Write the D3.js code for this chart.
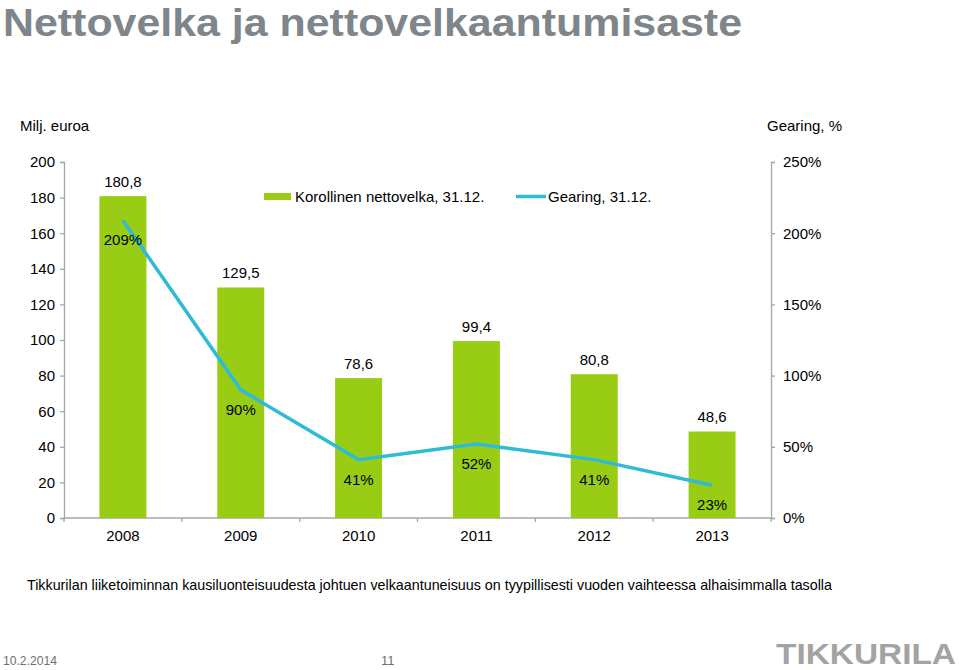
<!DOCTYPE html>
<html><head><meta charset="utf-8">
<script src="https://cdn.jsdelivr.net/npm/d3@7"></script>
<style>body{margin:0;background:#fff;}svg{display:block;font-family:"Liberation Sans",Arial,sans-serif;}</style>
</head><body><svg id="c" width="959" height="670"></svg>
<script>
const years = ["2008","2009","2010","2011","2012","2013"];
const netDebt = [180.8,129.5,78.6,99.4,80.8,48.6];
const netDebtLabels = ["180,8","129,5","78,6","99,4","80,8","48,6"];
const gearing = [209,90,41,52,41,23];
const gearingLabels = ["209%","90%","41%","52%","41%","23%"];
const leftTicks = [0,20,40,60,80,100,120,140,160,180,200];
const rightTicks = [0,50,100,150,200,250];

const svg = d3.select("#c");
const L = 64, R = 771, T = 162, B = 518;
const barColor = "#99cc14", lineColor = "#2dbbd6", axisColor = "#a6a6a6";

svg.append("text").attr("x",3).attr("y",36).attr("font-size",38).attr("font-weight","bold")
  .attr("fill","#7e858b").attr("textLength",739).attr("lengthAdjust","spacingAndGlyphs")
  .text("Nettovelka ja nettovelkaantumisaste");

const x = d3.scaleBand().domain(years).range([L,R]);
const yL = d3.scaleLinear().domain([0,200]).range([B,T]);
const yR = d3.scaleLinear().domain([0,250]).range([B,T]);

svg.append("text").attr("x",20).attr("y",131).attr("font-size",15).text("Milj. euroa");
svg.append("text").attr("x",767).attr("y",131).attr("font-size",15).text("Gearing, %");

// axes
const axL = svg.append("g").attr("transform",`translate(${L},0)`)
  .call(d3.axisLeft(yL).tickValues(leftTicks).tickSize(4).tickPadding(5).tickFormat(d3.format("d")));
const axR = svg.append("g").attr("transform",`translate(${R},0)`)
  .call(d3.axisRight(yR).tickValues(rightTicks).tickSize(4).tickPadding(8).tickFormat(d=>d+"%"));
const axB = svg.append("g").attr("transform",`translate(0,${B})`)
  .call(d3.axisBottom(x).tickSize(0).tickPadding(12));
[axL,axR,axB].forEach(g=>{
  g.select(".domain").attr("stroke",axisColor).attr("stroke-width",1.3);
  g.selectAll(".tick line").attr("stroke",axisColor).attr("stroke-width",1.3);
  g.selectAll("text").attr("font-size",15).attr("fill","#000").attr("font-family","Liberation Sans, Arial, sans-serif");
});
axB.select(".domain").attr("d",`M${L},0H${R}`);
// category boundary ticks
const bounds = years.map(d=>x(d)).concat([R]);
axB.selectAll(".bt").data(bounds).enter().append("line")
  .attr("x1",d=>d).attr("x2",d=>d).attr("y1",0).attr("y2",4)
  .attr("stroke",axisColor).attr("stroke-width",1.3);

// bars
const bw = 47;
svg.append("g").selectAll("rect").data(years).enter().append("rect")
  .attr("x",(d)=>x(d)+x.bandwidth()/2-bw/2).attr("width",bw)
  .attr("y",(d,i)=>yL(netDebt[i])).attr("height",(d,i)=>B-yL(netDebt[i]))
  .attr("fill",barColor);

svg.append("g").selectAll("text").data(years).enter().append("text")
  .attr("x",d=>x(d)+x.bandwidth()/2).attr("y",(d,i)=>yL(netDebt[i])-9)
  .attr("text-anchor","middle").attr("font-size",15).text((d,i)=>netDebtLabels[i]);

// line
const line = d3.line().x((d,i)=>x(years[i])+x.bandwidth()/2).y(d=>yR(d));
svg.append("path").datum(gearing).attr("d",line).attr("fill","none")
  .attr("stroke",lineColor).attr("stroke-width",3.5);

svg.append("g").selectAll("text").data(gearing).enter().append("text")
  .attr("x",(d,i)=>x(years[i])+x.bandwidth()/2).attr("y",d=>yR(d)+25)
  .attr("text-anchor","middle").attr("font-size",15).text((d,i)=>gearingLabels[i]);

// legend
svg.append("rect").attr("x",264).attr("y",193).attr("width",27).attr("height",7).attr("fill",barColor);
svg.append("text").attr("x",295).attr("y",202).attr("font-size",15).text("Korollinen nettovelka, 31.12.");
svg.append("line").attr("x1",516).attr("x2",546).attr("y1",196.5).attr("y2",196.5)
  .attr("stroke",lineColor).attr("stroke-width",3.5);
svg.append("text").attr("x",548).attr("y",202).attr("font-size",15).text("Gearing, 31.12.");

// footnote
svg.append("text").attr("x",27).attr("y",590).attr("font-size",15)
  .attr("textLength",805).attr("lengthAdjust","spacingAndGlyphs")
  .text("Tikkurilan liiketoiminnan kausiluonteisuudesta johtuen velkaantuneisuus on tyypillisesti vuoden vaihteessa alhaisimmalla tasolla");

// footer
svg.append("text").attr("x",3).attr("y",665).attr("font-size",13).attr("fill","#6f6f6f")
  .attr("textLength",54).attr("lengthAdjust","spacingAndGlyphs").text("10.2.2014");
svg.append("text").attr("x",381).attr("y",665).attr("font-size",13).attr("fill","#6f6f6f").text("11");
svg.append("text").attr("x",776).attr("y",664).attr("font-size",30).attr("font-weight","bold")
  .attr("fill","#a3a3a3").attr("textLength",180).attr("lengthAdjust","spacingAndGlyphs").text("TIKKURILA");
</script></body></html>
